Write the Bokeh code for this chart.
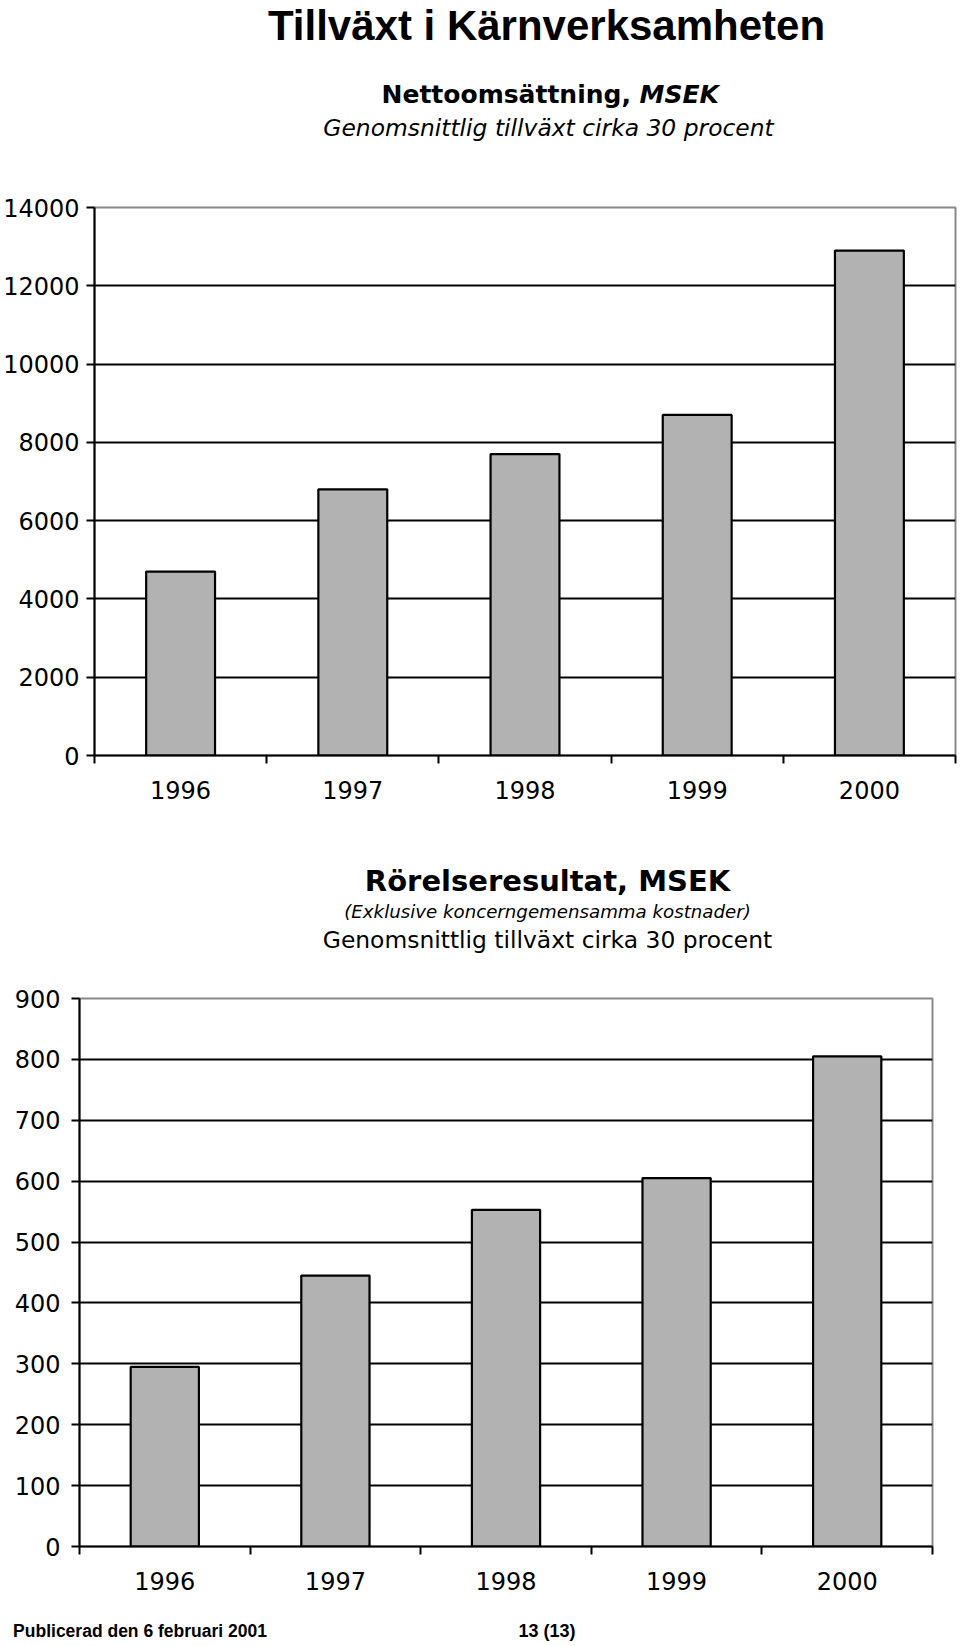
from bokeh.plotting import figure
from bokeh.models import Range1d, FixedTicker
from bokeh.core.properties import value
from bokeh.embed import file_html
from bokeh.resources import INLINE

# ---- data ----
years = ["1996", "1997", "1998", "1999", "2000"]
netto = [4700, 6800, 7700, 8700, 12900]          # Nettoomsättning, MSEK
rorelse = [295, 445, 553, 605, 805]              # Rörelseresultat, MSEK
netto_ticks = [0, 2000, 4000, 6000, 8000, 10000, 12000, 14000]
rorelse_ticks = [0, 100, 200, 300, 400, 500, 600, 700, 800, 900]

BAR_FILL = "#b2b2b2"
TICK_FONT = "DejaVu Sans"
W = 960


def make_chart(values, yticks, height, left, right, top, bottom, ystandoff):
    n = len(years)
    xs = [i + 0.5 for i in range(n)]
    p = figure(width=W, height=height, output_backend="svg", toolbar_location=None,
               x_range=Range1d(0, n), y_range=Range1d(yticks[0], yticks[-1]),
               min_border_left=left, min_border_right=right,
               min_border_top=top, min_border_bottom=bottom)
    p.vbar(x=xs, top=values, width=0.4, fill_color=BAR_FILL, line_color="black", line_width=2.2)

    p.background_fill_color = "white"
    p.border_fill_color = "white"
    p.outline_line_color = "#8a8a8a"
    p.outline_line_width = 2

    p.xgrid.grid_line_color = None
    p.ygrid.ticker = FixedTicker(ticks=yticks[1:-1])
    p.ygrid.grid_line_color = "black"
    p.ygrid.grid_line_width = 2

    xa = p.xaxis[0]
    xa.ticker = FixedTicker(ticks=xs, minor_ticks=list(range(n + 1)))
    xa.major_label_overrides = {x: y for x, y in zip(xs, years)}
    xa.major_tick_in = 0
    xa.major_tick_out = 0
    xa.minor_tick_in = 0
    xa.minor_tick_out = 8
    xa.minor_tick_line_width = 2
    xa.minor_tick_line_color = "black"
    xa.axis_line_width = 2
    xa.axis_line_color = "black"
    xa.major_label_text_font = TICK_FONT
    xa.major_label_text_font_size = "24px"
    xa.major_label_text_color = "black"
    xa.major_label_standoff = 17

    ya = p.yaxis[0]
    ya.ticker = FixedTicker(ticks=yticks)
    ya.major_tick_in = 0
    ya.major_tick_out = 8
    ya.major_tick_line_width = 2
    ya.major_tick_line_color = "black"
    ya.minor_tick_line_color = None
    ya.axis_line_width = 2
    ya.axis_line_color = "black"
    ya.major_label_text_font = TICK_FONT
    ya.major_label_text_font_size = "24px"
    ya.major_label_text_color = "black"
    ya.major_label_standoff = ystandoff
    return p


def text_fig(height):
    t = figure(width=W, height=height, output_backend="svg", toolbar_location=None,
               x_range=Range1d(0, W), y_range=Range1d(height, 0),
               x_axis_location=None, y_axis_location=None, min_border=0)
    t.grid.visible = False
    t.outline_line_color = None
    t.background_fill_color = "white"
    t.border_fill_color = "white"
    return t


def put(t, x, y, text, font, size, style="normal", align="center"):
    t.text(x=[x], y=[y], text=[text], text_font=value(font), text_font_size=value(size),
           text_font_style=style, text_align=align, text_baseline="alphabetic", text_color="black")


# page layout (pixels from top): header1 0-160, chart1 160-815, header2 815-965,
# chart2 965-1598, footer 1598-1646
h1 = text_fig(160)
put(h1, 546, 25, "Tillväxt i Kärnverksamheten", "Liberation Sans", "42px", "bold")
put(h1, 381, 94, "Nettoomsättning, ", "DejaVu Sans", "25px", "bold", "left")
put(h1, 639, 94, "MSEK", "DejaVu Sans", "25px", "bold italic", "left")
put(h1, 548, 127, "Genomsnittlig tillväxt cirka 30 procent", "DejaVu Sans", "23.4px", "italic")

p1 = make_chart(netto, netto_ticks, 655, 92, 5, 47, 60, 7)

h2 = text_fig(150)
put(h2, 547, 65.5, "Rörelseresultat, MSEK", "DejaVu Sans", "29px", "bold")
put(h2, 547, 96, "(Exklusive koncerngemensamma kostnader)", "DejaVu Sans", "18.2px", "italic")
put(h2, 547, 124, "Genomsnittlig tillväxt cirka 30 procent", "DejaVu Sans", "23.4px")

p2 = make_chart(rorelse, rorelse_ticks, 633, 79, 28, 33, 52, 11)

f = text_fig(48)
put(f, 12.6, 32, "Publicerad den 6 februari 2001", "Liberation Sans", "17.5px", "bold", "left")
put(f, 546.5, 32, "13 (13)", "Liberation Sans", "18px", "bold")

open("out.html", "w").write(file_html([h1, p1, h2, p2, f], INLINE))
